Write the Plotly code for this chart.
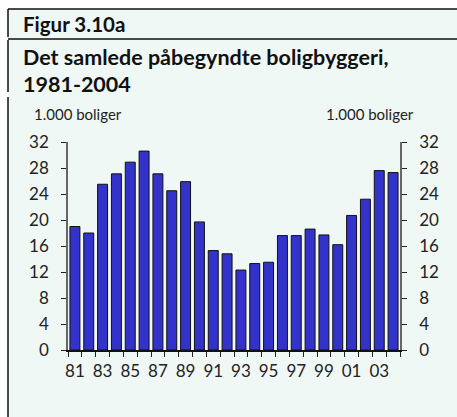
import plotly.graph_objects as go

# Påbegyndte boliger, 1.000 stk.
years = list(range(1981, 2005))
starts = [19.0, 18.0, 25.5, 27.1, 28.9, 30.6, 27.1, 24.5, 25.9, 19.7, 15.3, 14.8,
          12.3, 13.3, 13.5, 17.6, 17.6, 18.6, 17.7, 16.2, 20.7, 23.2, 27.6, 27.3]
year_labels = [f"{y % 100:02d}" for y in years]
y_ticks = [0, 4, 8, 12, 16, 20, 24, 28, 32]

W, H = 457, 417
L, R, T, B = 68, 57, 142, 67
PW, PH = W - L - R, H - T - B
BG = "#f0f8f5"
FONT = "Lato"

def px(x):
    return (x - L) / PW

def py(y):
    return (H - B - y) / PH

x_idx = list(range(len(years)))

fig = go.Figure()
fig.add_trace(go.Bar(
    x=x_idx, y=starts,
    marker=dict(color="#3333cc", line=dict(color="#111111", width=1)),
    width=0.72, showlegend=False, hoverinfo="skip",
))
# right-hand axis carries the same scale
fig.add_trace(go.Scatter(x=[x_idx[0]], y=[0], yaxis="y2", xaxis="x2",
                         mode="markers", marker=dict(opacity=0),
                         showlegend=False, hoverinfo="skip"))

tick_font = dict(family=FONT, size=17, color="#222222")

fig.update_layout(
    width=W, height=H,
    margin=dict(l=L, r=R, t=T, b=B, pad=0),
    paper_bgcolor="white",
    plot_bgcolor=BG,
    font=dict(family=FONT, color="#222222"),
    xaxis=dict(
        range=[-0.5, len(years) - 0.5],
        tickmode="array",
        tickvals=[i - 0.5 for i in range(len(years) + 1)],
        ticktext=["" for _ in range(len(years) + 1)],
        ticks="outside", ticklen=5, tickcolor="#222222", tickwidth=1,
        showline=True, linecolor="#111111", linewidth=1.5,
        showgrid=False, zeroline=False,
    ),
    xaxis2=dict(
        overlaying="x", range=[-0.5, len(years) - 0.5],
        tickmode="array",
        tickvals=x_idx[::2],
        ticktext=year_labels[::2],
        ticks="", showline=False, showgrid=False, zeroline=False,
        side="bottom", anchor="y", tickfont=tick_font,
        ticklabelstandoff=9,
    ),
    yaxis=dict(
        range=[0, 32], tickmode="array", tickvals=y_ticks,
        ticks="outside", ticklen=5, tickcolor="#222222",
        showline=True, linecolor="#666666", linewidth=1.5,
        showgrid=False, zeroline=False, tickfont=tick_font,
        ticklabelstandoff=9,
    ),
    yaxis2=dict(
        range=[0, 32], tickmode="array", tickvals=y_ticks,
        overlaying="y", side="right", anchor="x",
        ticks="outside", ticklen=5, tickcolor="#222222",
        showline=True, linecolor="#666666", linewidth=1.5,
        showgrid=False, zeroline=False, tickfont=tick_font,
        ticklabelstandoff=9,
    ),
)

shapes = []
# panel background
shapes.append(dict(type="rect", xref="paper", yref="paper",
                   x0=px(8), x1=px(W), y0=py(H), y1=py(9),
                   fillcolor=BG, line=dict(width=0), layer="below"))
# frame lines
for y in (9, 39):
    shapes.append(dict(type="line", xref="paper", yref="paper",
                       x0=px(8), x1=px(W), y0=py(y), y1=py(y),
                       line=dict(color="#111111", width=1.5)))
for y0, y1 in ((9, 37), (40, 92), (97, H)):
    shapes.append(dict(type="line", xref="paper", yref="paper",
                       x0=px(8), x1=px(8), y0=py(y0), y1=py(y1),
                       line=dict(color="#111111", width=1.5)))
fig.update_layout(shapes=shapes)

ann = []
ann.append(dict(text="<b>Figur 3.10a</b>", x=px(21), y=py(24),
                xref="paper", yref="paper", xanchor="left", yanchor="middle",
                showarrow=False, font=dict(family=FONT, size=20.5, color="#111111")))
ann.append(dict(text="<b>Det samlede påbegyndte boligbyggeri,</b>", x=px(21), y=py(57),
                xref="paper", yref="paper", xanchor="left", yanchor="middle",
                showarrow=False, font=dict(family=FONT, size=21.5, color="#111111")))
ann.append(dict(text="<b>1981-2004</b>", x=px(21), y=py(84),
                xref="paper", yref="paper", xanchor="left", yanchor="middle",
                showarrow=False, font=dict(family=FONT, size=21.5, color="#111111")))
ann.append(dict(text="1.000 boliger", x=px(32), y=py(114),
                xref="paper", yref="paper", xanchor="left", yanchor="middle",
                showarrow=False, font=dict(family=FONT, size=15, color="#222222")))
ann.append(dict(text="1.000 boliger", x=px(416), y=py(114),
                xref="paper", yref="paper", xanchor="right", yanchor="middle",
                showarrow=False, font=dict(family=FONT, size=15, color="#222222")))
fig.update_layout(annotations=ann)

fig.write_html("out.html")
